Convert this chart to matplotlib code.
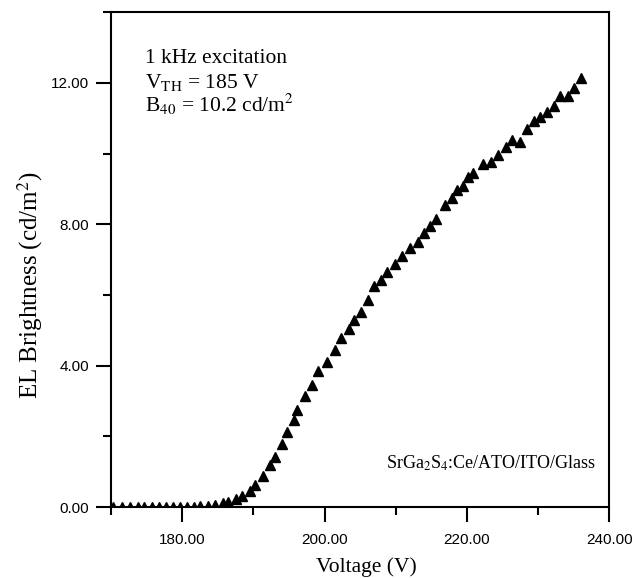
"""EL brightness vs voltage for SrGa2S4:Ce/ATO/ITO/Glass."""

import matplotlib

matplotlib.use("Agg")
import matplotlib.pyplot as plt
from matplotlib.ticker import MultipleLocator, FormatStrFormatter

voltage = [
    170.3, 171.5, 172.7, 173.8, 174.7, 175.7, 176.8, 177.7, 178.7, 179.7,
    180.7, 181.7, 182.5, 183.6, 184.6, 185.7, 186.5, 187.6, 188.4, 189.5,
    190.3, 191.4, 192.3, 193.1, 194.0, 194.7, 195.7, 196.2, 197.2, 198.2,
    199.1, 200.4, 201.5, 202.3, 203.4, 204.2, 205.1, 206.1, 206.9, 207.9,
    208.8, 209.9, 210.9, 212.0, 213.1, 214.0, 214.8, 215.6, 216.9, 217.9,
    218.6, 219.5, 220.2, 220.9, 222.2, 223.4, 224.4, 225.5, 226.4, 227.4,
    228.5, 229.5, 230.3, 231.2, 232.2, 233.1, 234.2, 235.1, 236.0,
]
brightness = [
    0.0, 0.0, 0.0, 0.0, 0.0, 0.0, 0.0, 0.0, 0.0, 0.0,
    0.0, 0.01, 0.02, 0.04, 0.06, 0.10, 0.15, 0.23, 0.32, 0.45,
    0.61, 0.87, 1.18, 1.42, 1.79, 2.11, 2.47, 2.75, 3.13, 3.46,
    3.86, 4.11, 4.45, 4.78, 5.03, 5.28, 5.52, 5.86, 6.26, 6.41,
    6.65, 6.88, 7.09, 7.32, 7.51, 7.75, 7.96, 8.15, 8.54, 8.73,
    8.96, 9.09, 9.33, 9.44, 9.70, 9.77, 9.95, 10.19, 10.38, 10.32,
    10.70, 10.93, 11.04, 11.17, 11.34, 11.62, 11.64, 11.85, 12.14,
]

serif = "Liberation Serif"
sans = "Liberation Sans"
plt.rcParams["mathtext.fontset"] = "stix"

fig = plt.figure(figsize=(6.33, 5.78), dpi=100)
ax = fig.add_axes([0.1754, 0.1228, 0.787, 0.856])

ax.plot(voltage, brightness, linestyle="none", marker="^", ms=7, color="black")

ax.set_xlim(170, 240)
ax.set_ylim(0, 14)
ax.xaxis.set_major_locator(MultipleLocator(20))
ax.xaxis.set_minor_locator(MultipleLocator(10))
ax.yaxis.set_major_locator(MultipleLocator(4))
ax.yaxis.set_minor_locator(MultipleLocator(2))
ax.xaxis.set_major_formatter(FormatStrFormatter("%.2f"))
ax.yaxis.set_major_formatter(FormatStrFormatter("%.2f"))
ax.set_xticks([180, 200, 220, 240])

for side in ("top", "right", "left", "bottom"):
    ax.spines[side].set_linewidth(1.5)
ax.tick_params(which="major", direction="out", length=11, width=1.5, labelsize=11)
ax.tick_params(axis="x", which="major", pad=8)
ax.tick_params(axis="y", which="major", pad=5)
ax.tick_params(which="minor", direction="out", length=6, width=1.5)
for lbl in ax.get_xticklabels() + ax.get_yticklabels():
    lbl.set_family(sans)

ax.set_xlabel("Voltage (V)", family=serif, fontsize=15.5, va="center")
ax.xaxis.set_label_coords(0.512, -0.122)
ax.set_ylabel("EL Brightness (cd/m$^2$)", family=serif, fontsize=18, va="center")
ax.yaxis.set_label_coords(-0.163, 0.448)

note = dict(transform=ax.transAxes, family=serif, fontsize=15.5, va="baseline")
ax.text(0.068, 0.897, "1 kHz excitation", **note)
ax.text(0.068, 0.846, "V$_{\\rm TH}$ = 185 V", **note)
ax.text(0.068, 0.798, "B$_{40}$ = 10.2 cd/m$^2$", **note)
ax.text(0.552, 0.077, "SrGa$_2$S$_4$:Ce/ATO/ITO/Glass", transform=ax.transAxes,
        family=serif, fontsize=13, va="baseline")

fig.savefig("out.png", dpi=100)
